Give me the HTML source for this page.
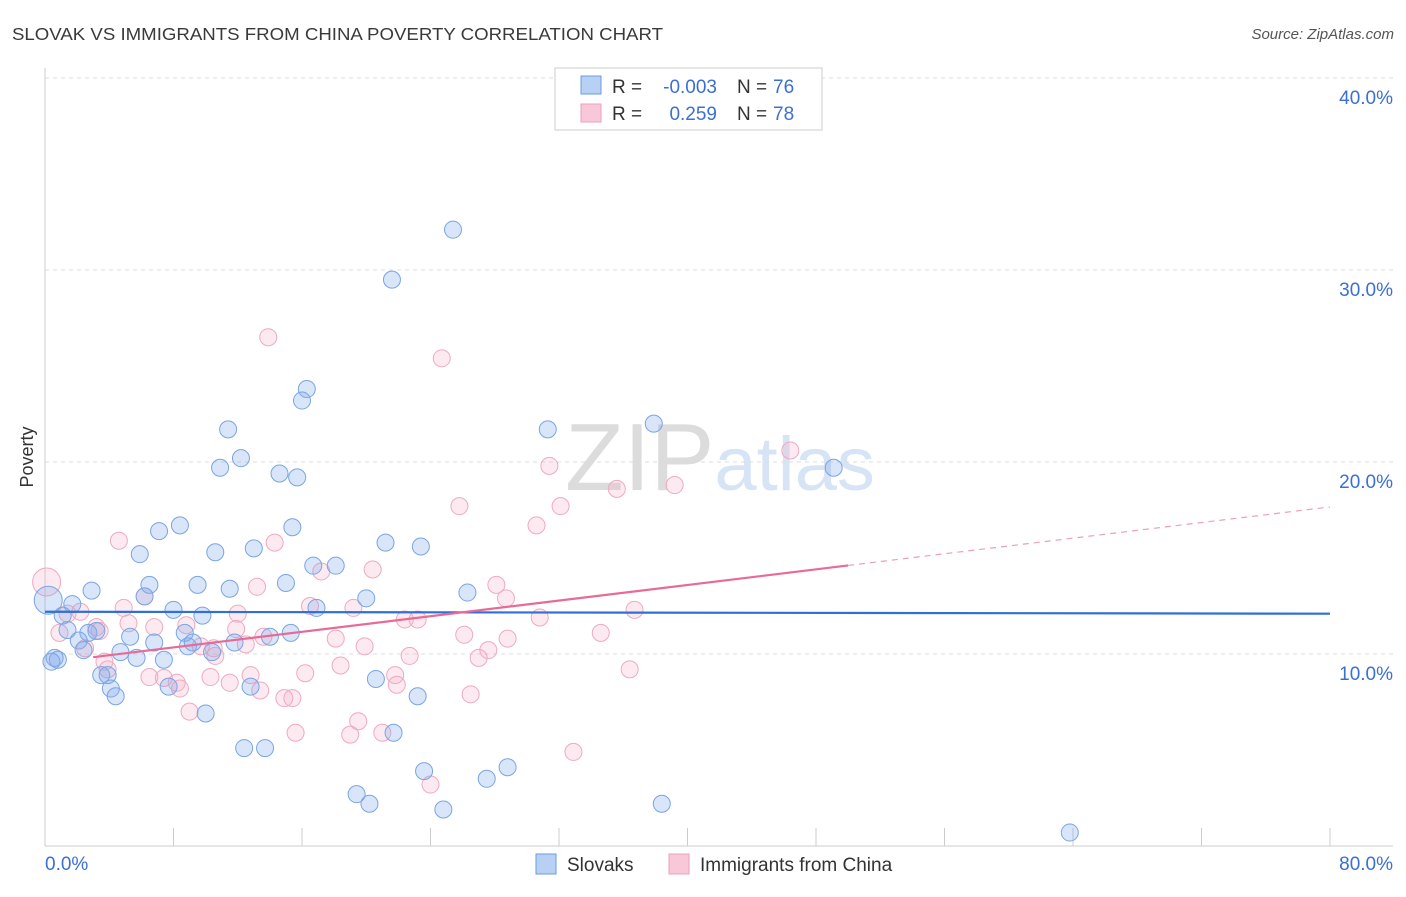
<!DOCTYPE html>
<html><head><meta charset="utf-8"><style>
body{margin:0;background:#fff;font-family:"Liberation Sans",sans-serif;}
svg text{font-family:"Liberation Sans",sans-serif;}
</style></head><body>
<svg id="chart" width="1406" height="892" xmlns="http://www.w3.org/2000/svg">
<text x="12" y="40" font-size="17.5" fill="#3a3a3a" textLength="651" lengthAdjust="spacingAndGlyphs">SLOVAK VS IMMIGRANTS FROM CHINA POVERTY CORRELATION CHART</text>
<text x="1394" y="39" font-size="15" fill="#555" text-anchor="end" font-style="italic">Source: ZipAtlas.com</text>
<text x="720" y="490" font-size="96" text-anchor="middle" fill="#e6e6e6" font-family="Liberation Serif"><tspan fill="#dcdcdc">ZIP</tspan><tspan fill="#d6e4f5" font-family="Liberation Sans" font-size="76">atlas</tspan></text>
<g id="grid"></g><g id="axes"></g><g id="pts"></g><g id="trend"></g>
<text transform="translate(33,457) rotate(-90)" font-size="18" fill="#333" text-anchor="middle">Poverty</text>
<g>
<rect x="555" y="68" width="267" height="62" fill="#fff" stroke="#ccc"/>
<rect x="581" y="76" width="20" height="18" fill="#b8d0f3" stroke="#6a9be0"/>
<rect x="581" y="104" width="20" height="18" fill="#f8c8d8" stroke="#eaa0b8"/>
<text x="612" y="93" font-size="19" fill="#333">R =</text>
<text x="717" y="93" font-size="19" fill="#3b6fd4" text-anchor="end">-0.003</text>
<text x="737" y="93" font-size="19" fill="#333">N =</text>
<text x="773" y="93" font-size="19" fill="#3b6fd4">76</text>
<text x="612" y="120" font-size="19" fill="#333">R =</text>
<text x="717" y="120" font-size="19" fill="#3b6fd4" text-anchor="end">0.259</text>
<text x="737" y="120" font-size="19" fill="#333">N =</text>
<text x="773" y="120" font-size="19" fill="#3b6fd4">78</text>
</g>
<g>
<rect x="536" y="854" width="20" height="20" fill="#b8d0f3" stroke="#6a9be0"/>
<text x="567" y="871" font-size="19" fill="#333">Slovaks</text>
<rect x="669" y="854" width="20" height="20" fill="#f8c8d8" stroke="#eaa0b8"/>
<text x="700" y="871" font-size="19" fill="#333">Immigrants from China</text>
</g>
</svg>
<script>
const blueX=[25.4,21.6,16.3,16.0,11.4,31.3,37.9,12.2,10.9,14.6,15.7,49.1,8.4,15.4,7.1,5.9,10.6,13.0,21.2,23.4,16.7,18.1,6.5,2.9,9.5,11.5,15.0,6.2,20.0,26.3,1.7,8.0,16.9,9.8,1.1,0.2,1.4,2.7,3.2,8.7,5.3,15.3,2.1,6.8,8.9,2.4,9.2,11.8,14.0,4.7,10.4,5.7,0.6,0.8,0.4,7.4,3.5,3.9,20.6,4.1,4.4,7.7,12.8,23.2,10.0,12.4,13.7,21.7,23.6,28.8,27.5,19.4,20.2,24.8,38.4,63.8];
const blueY=[32.1,29.5,23.8,23.2,21.7,21.7,22.0,20.2,19.7,19.4,19.2,19.7,16.7,16.6,16.4,15.2,15.3,15.5,15.8,15.6,14.6,14.6,13.6,13.3,13.6,13.4,13.7,13.0,12.9,13.2,12.6,12.3,12.4,12.0,12.0,12.8,11.25,11.1,11.2,11.1,10.9,11.1,10.7,10.6,10.4,10.2,10.6,10.6,10.9,10.1,10.1,9.8,9.8,9.7,9.6,9.7,8.9,8.9,8.7,8.2,7.8,8.3,8.3,7.8,6.9,5.1,5.1,5.9,3.9,4.1,3.5,2.7,2.2,1.9,2.2,0.7];
const pinkX=[13.9,24.7,46.4,31.4,39.2,35.6,25.8,32.1,30.6,4.6,14.3,20.4,17.2,28.1,13.2,6.2,28.7,36.7,4.9,19.2,16.5,30.8,12.0,1.4,22.4,23.2,5.2,3.2,6.8,8.8,11.9,13.6,3.4,0.9,26.1,34.6,28.8,18.1,2.5,9.7,19.9,10.5,27.6,3.7,10.6,27.0,22.7,12.5,18.4,3.9,36.4,12.8,16.2,21.8,6.5,10.3,7.4,8.2,11.5,21.9,8.4,13.4,14.9,15.4,26.5,9.0,19.5,15.6,19.0,21.0,32.9,24.0,0.1,2.2];
const pinkY=[26.5,25.4,20.6,19.8,18.8,18.6,17.7,17.7,16.7,15.9,15.8,14.4,14.3,13.6,13.5,13.0,12.9,12.3,12.4,12.4,12.5,11.9,12.1,12.1,11.8,11.8,11.6,11.4,11.4,11.5,11.3,10.9,11.2,11.1,11.0,11.1,10.8,10.8,10.3,10.4,10.4,10.3,10.2,9.6,9.9,9.8,9.9,10.5,9.4,9.2,9.2,8.9,9.0,8.9,8.8,8.8,8.75,8.5,8.5,8.4,8.2,8.1,7.7,7.7,7.9,7.0,6.5,5.9,5.8,5.9,4.9,3.2,13.75,12.2];
const blueLarge=[35], pinkLarge=[72];
const yTicks=[10,20,30,40];
const xTicks=[0,8,16,24,32,40,48,56,64,72,80];
const blueTrend=[12.2,12.1];
const pinkTrend=[9.53,17.66];
const pinkSolidEnd=50;
const NS='http://www.w3.org/2000/svg';
const sx=v=>45+v*1285/80, sy=v=>846-v*19.2;
function mk(p,t,a){const e=document.createElementNS(NS,t);for(const k in a)e.setAttribute(k,a[k]);document.getElementById(p).appendChild(e);return e;}
yTicks.forEach(t=>{
 const l=mk('grid','line',{x1:45,x2:1393,y1:sy(t),y2:sy(t),stroke:'#ddd','stroke-dasharray':'4,4'});
 
 
 const tx=mk('grid','text',{x:1393,y:sy(t)+26,'font-size':19,fill:'#3b6fd4','text-anchor':'end'});
 tx.textContent=t.toFixed(1)+'%';
 
 
});
let ax=mk('axes','line',{x1:45,x2:45,y1:68,y2:846,stroke:'#ccc'});


ax=mk('axes','line',{x1:45,x2:1393,y1:846,y2:846,stroke:'#ccc'});


xTicks.forEach(t=>{
 const l=mk('axes','line',{x1:sx(t),x2:sx(t),y1:828,y2:846,stroke:'#ccc'});
 
 
});
[[0,'start'],[80,'end']].forEach(([t,a])=>{
 const tx=mk('axes','text',{x:t==0?45:1393,y:870,'font-size':19,fill:'#3b6fd4','text-anchor':a});
 tx.textContent=t.toFixed(1)+'%';
 
 
});
function pts(X,Y,L,fill,stroke,name){
 X.forEach((x,i)=>{
  const c=mk('pts','circle',{cx:sx(x),cy:sy(Y[i]),r:L.includes(i)?14:8.5,fill:fill,stroke:stroke,'stroke-width':1});
  
  
 });
}
pts(pinkX,pinkY,pinkLarge,'rgba(244,170,195,0.25)','#eeaac0','china-point');
pts(blueX,blueY,blueLarge,'rgba(130,170,235,0.3)','#7aa5e4','slovak-point');
let t=mk('trend','line',{x1:sx(0),x2:sx(80),y1:sy(blueTrend[0]),y2:sy(blueTrend[1]),stroke:'#2f6fd6','stroke-width':2.2});


const py=x=>pinkTrend[0]+(pinkTrend[1]-pinkTrend[0])*x/80;
t=mk('trend','line',{x1:sx(3),x2:sx(pinkSolidEnd),y1:sy(py(3)),y2:sy(py(pinkSolidEnd)),stroke:'#e86a96','stroke-width':2.2});


t=mk('trend','line',{x1:sx(pinkSolidEnd),x2:sx(80),y1:sy(py(pinkSolidEnd)),y2:sy(py(80)),stroke:'#eaa0b8','stroke-width':1.2,'stroke-dasharray':'6,5'});


</script>
</body></html>
